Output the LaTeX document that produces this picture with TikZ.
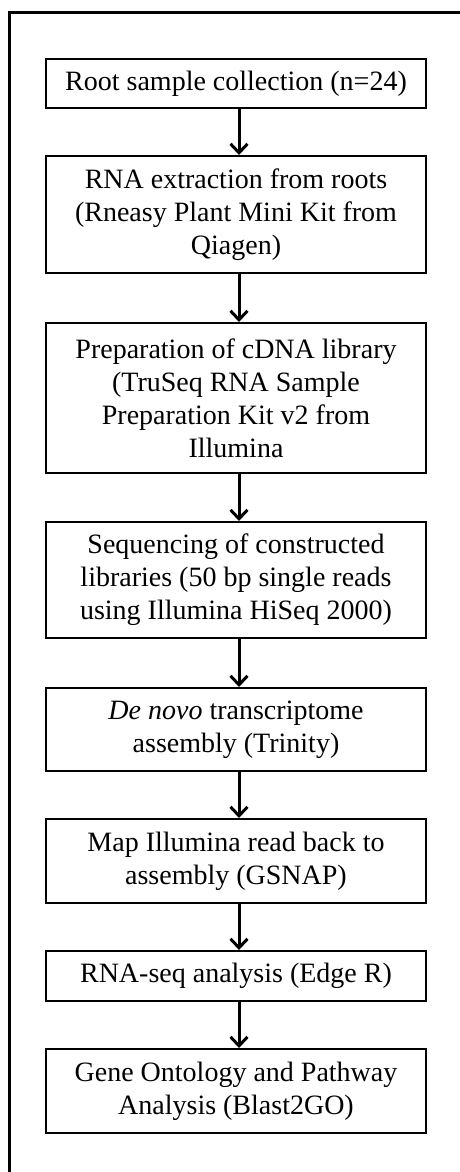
\documentclass[tikz,border=0pt]{standalone}
\usepackage{fontspec}
\setmainfont{Liberation Serif}
\usetikzlibrary{arrows.meta}

\tikzset{
  stepbox/.style={draw, line width=2pt, minimum width=380pt, inner sep=0pt,
    align=center, anchor=north, font=\fontsize{28}{33}\selectfont},
  flow/.style={line width=3pt, -{Straight Barb[length=9pt,width=17pt]}},
  frame/.style={line width=3pt}
}

\begin{document}
\begin{tikzpicture}[x=1pt, y=-1pt]

\useasboundingbox (0,0) rectangle (460,1172);

\draw [frame] (460,12.5) -- (9.5,12.5) -- (9.5,1172);

\node [stepbox, minimum height=49pt]  (collect)  at (236,58)   {Root sample collection (n=24)};
\node [stepbox, minimum height=117pt] (extract)  at (236,155)  {RNA extraction from roots\\(Rneasy Plant Mini Kit from\\Qiagen)};
\node [stepbox, minimum height=150pt] (library)  at (236,322)  {Preparation of cDNA library\\(TruSeq RNA Sample\\Preparation Kit v2 from\\Illumina};
\node [stepbox, minimum height=116pt] (sequence) at (236,521)  {Sequencing of constructed\\libraries (50 bp single reads\\using Illumina HiSeq 2000)};
\node [stepbox, minimum height=83pt]  (assembly) at (236,687)  {\textit{De novo} transcriptome\\assembly (Trinity)};
\node [stepbox, minimum height=84pt]  (mapping)  at (236,818)  {Map Illumina read back to\\assembly (GSNAP)};
\node [stepbox, minimum height=50pt]  (rnaseq)   at (236,950)  {RNA-seq analysis (Edge R)};
\node [stepbox, minimum height=84pt]  (ontology) at (236,1048) {Gene Ontology and Pathway\\Analysis (Blast2GO)};

\draw [flow] ([xshift=3pt]collect.south)  -- ([xshift=3pt]extract.north);
\draw [flow] ([xshift=3pt]extract.south)  -- ([xshift=3pt]library.north);
\draw [flow] ([xshift=3pt]library.south)  -- ([xshift=3pt]sequence.north);
\draw [flow] ([xshift=3pt]sequence.south) -- ([xshift=3pt]assembly.north);
\draw [flow] ([xshift=3pt]assembly.south) -- ([xshift=3pt]mapping.north);
\draw [flow] ([xshift=3pt]mapping.south)  -- ([xshift=3pt]rnaseq.north);
\draw [flow] ([xshift=3pt]rnaseq.south)   -- ([xshift=3pt]ontology.north);

\end{tikzpicture}
\end{document}
